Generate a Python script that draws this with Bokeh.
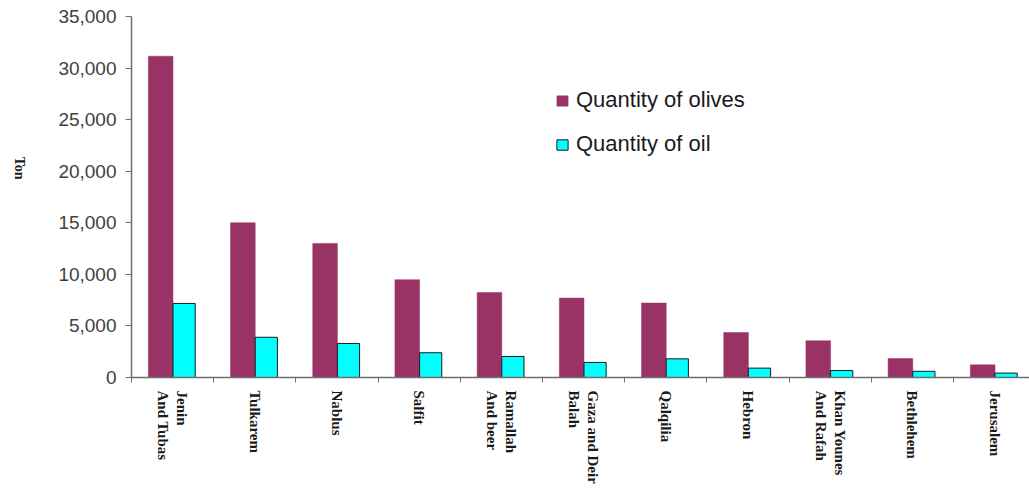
import math
from bokeh.plotting import figure
from bokeh.models import Range1d, FixedTicker, NumeralTickFormatter, Legend, LegendItem
from bokeh.embed import file_html
from bokeh.resources import INLINE

districts = ["Jenin\nAnd Tubas", "Tulkarem", "Nablus", "Salfit", "Ramallah\nAnd beer",
             "Gaza and Deir\nBalah", "Qalqilia", "Hebron", "Khan Younes\nAnd Rafah",
             "Bethlehem", "Jerusalem"]
olives = [31150, 15000, 13000, 9480, 8250, 7700, 7220, 4370, 3560, 1840, 1230]
oil = [7180, 3900, 3300, 2400, 2040, 1460, 1810, 910, 680, 600, 430]
y_ticks = [0, 5000, 10000, 15000, 20000, 25000, 30000, 35000]
y_title = "Ton"

OLIVE = "#993366"
CYAN = "#00FFFF"

n = len(districts)
centers = list(range(1, n + 1))
x_olive = [c - 0.145 for c in centers]
x_oil = [c + 0.14 for c in centers]

p = figure(width=1029, height=491, output_backend="svg", toolbar_location=None,
           x_range=Range1d(0.5, 0.5 + 10.925), y_range=Range1d(0, 35000),
           min_border_left=131, min_border_right=0, min_border_top=16, min_border_bottom=114)
p.outline_line_color = None
p.xgrid.visible = False
p.ygrid.visible = False
p.background_fill_color = "white"

r1 = p.vbar(x=x_olive, top=olives, width=0.30, fill_color=OLIVE, line_color=OLIVE, line_width=0.5)
r2 = p.vbar(x=x_oil, top=oil, width=0.27, fill_color=CYAN, line_color="#1a1a1a", line_width=1)

# x axis
xa = p.xaxis[0]
xa.ticker = FixedTicker(ticks=centers, minor_ticks=[c + 0.5 for c in range(0, n + 1)])
xa.major_label_overrides = {c: d for c, d in zip(centers, districts)}
xa.major_label_orientation = -math.pi / 2
xa.major_tick_out = 0
xa.major_tick_in = 0
xa.minor_tick_out = 5
xa.minor_tick_in = 0
xa.minor_tick_line_color = "#6e6e6e"
xa.axis_line_color = "#6e6e6e"
xa.axis_line_width = 1.5
xa.major_label_text_font = "Liberation Serif"
xa.major_label_text_font_style = "bold"
xa.major_label_text_font_size = "15px"
xa.major_label_text_color = "#1a1a1a"
xa.major_label_standoff = 8

# y axis
ya = p.yaxis[0]
ya.ticker = FixedTicker(ticks=y_ticks)
ya.formatter = NumeralTickFormatter(format="0,0")
ya.minor_tick_line_color = None
ya.major_tick_out = 6
ya.major_tick_in = 0
ya.major_tick_line_color = "#6e6e6e"
ya.axis_line_color = "#6e6e6e"
ya.axis_line_width = 1.5
ya.major_label_text_font = "Liberation Sans"
ya.major_label_text_font_size = "19px"
ya.major_label_text_color = "#404040"
ya.major_label_standoff = 9

# y title, reading top to bottom, nudged upward with trailing non-breaking spaces
ya.axis_label = y_title + "\u00a0" * 5
ya.axis_label_text_font = "Liberation Serif"
ya.axis_label_text_font_style = "bold"
ya.axis_label_text_font_size = "14px"
ya.axis_label_text_color = "#1a1a1a"
ya.axis_label_standoff = 36
try:
    ya.axis_label_orientation = -math.pi / 2
except Exception:
    pass

legend = Legend(items=[LegendItem(label="Quantity of olives", renderers=[r1]),
                       LegendItem(label="Quantity of oil", renderers=[r2])],
                location=(424, 220), orientation="vertical",
                padding=0, margin=0, spacing=18,
                glyph_width=14, glyph_height=13, label_height=21,
                label_standoff=7,
                label_text_font="Liberation Sans", label_text_font_size="22px",
                label_text_color="#1a1a1a",
                border_line_alpha=0, background_fill_alpha=0)
p.add_layout(legend)

open("out.html", "w").write(file_html(p, INLINE))
